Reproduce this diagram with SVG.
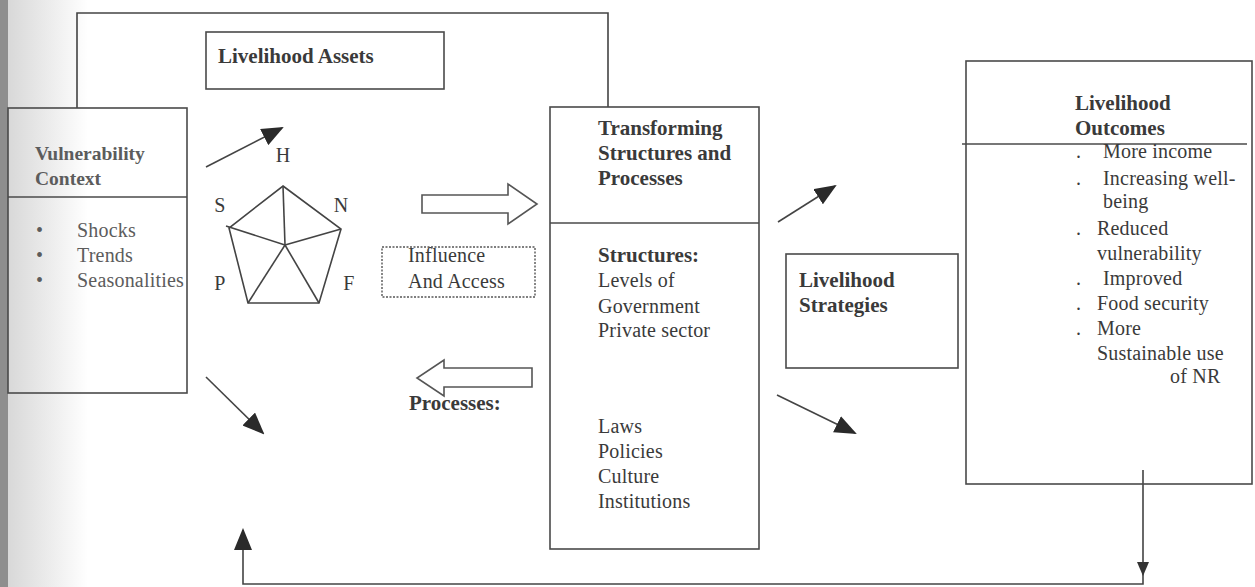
<svg xmlns="http://www.w3.org/2000/svg" width="1255" height="587" viewBox="0 0 1255 587">
<style>
.box{fill:none;stroke:#4a4a4a;stroke-width:1.6}
.ln{fill:none;stroke:#444;stroke-width:1.6}
.t{font-family:"Liberation Serif","Times New Roman",serif;font-size:20px;letter-spacing:0.2px;fill:#3a3a3a}
.b{font-family:"Liberation Serif","Times New Roman",serif;font-size:21px;font-weight:bold;fill:#3a3a3a}
.g{fill:#5c5c5c}
.dbl{fill:#fff;stroke:#555;stroke-width:1.6}
</style>
<defs>
<marker id="ah" markerWidth="22" markerHeight="18" refX="20" refY="9" orient="auto" markerUnits="userSpaceOnUse">
<path d="M0,0 L22,9 L0,18 Z" fill="#2a2a2a"/>
</marker>
<linearGradient id="edge" x1="0" x2="1" y1="0" y2="0">
<stop offset="0" stop-color="#d8d8d8"/>
<stop offset="1" stop-color="#ffffff"/>
</linearGradient>
</defs>
<rect x="0" y="0" width="1255" height="587" fill="#fff"/>
<rect x="8" y="0" width="80" height="587" fill="url(#edge)"/>
<rect x="0" y="0" width="8" height="587" fill="#8e8e8e"/>

<g id="connectors">
<polyline class="ln" points="77,108 77,13 608,13 608,107"/>
<line class="ln" x1="206" y1="167" x2="282" y2="128" marker-end="url(#ah)"/>
<line class="ln" x1="206" y1="377" x2="263" y2="433" marker-end="url(#ah)"/>
<line class="ln" x1="778" y1="222" x2="835" y2="186" marker-end="url(#ah)"/>
<line class="ln" x1="777" y1="395" x2="855" y2="433" marker-end="url(#ah)"/>
<polyline class="ln" points="1143,470 1143,584 243,584 243,530" marker-end="url(#ah)"/>
<path d="M1137,562 L1149,562 L1143,576 Z" fill="#333"/>
<path class="dbl" d="M422,195 L508,195 L508,184 L537,204 L508,224 L508,213 L422,213 Z"/>
<path class="dbl" d="M532,368 L444,368 L444,360 L417,378 L444,396 L444,387 L532,387 Z"/>
</g>

<g id="livelihood-assets">
<rect class="box" x="206" y="32" width="238" height="57"/>
<text class="b" x="218" y="63">Livelihood Assets</text>
</g>

<g id="vulnerability-context">
<rect class="box" x="8" y="108" width="179" height="285"/>
<line class="box" x1="8" y1="197" x2="187" y2="197"/>
<text class="b g" x="35" y="160" style="font-size:19.5px">Vulnerability</text>
<text class="b g" x="35" y="185" style="font-size:19.5px">Context</text>
<text class="t g" x="36" y="237">•</text>
<text class="t g" x="77" y="237">Shocks</text>
<text class="t g" x="36" y="262">•</text>
<text class="t g" x="77" y="262">Trends</text>
<text class="t g" x="36" y="287">•</text>
<text class="t g" x="77" y="287">Seasonalities</text>
</g>

<g id="assets-pentagon">
<polygon class="ln" points="283,186 341,229 319,303 248,303 229,228"/>
<line class="ln" x1="285" y1="245" x2="283" y2="186"/>
<line class="ln" x1="285" y1="245" x2="341" y2="229"/>
<line class="ln" x1="285" y1="245" x2="319" y2="303"/>
<line class="ln" x1="285" y1="245" x2="248" y2="303"/>
<line class="ln" x1="285" y1="245" x2="226" y2="226"/>
<text class="t" x="283" y="162" text-anchor="middle">H</text>
<text class="t" x="220" y="212" text-anchor="middle">S</text>
<text class="t" x="341" y="212" text-anchor="middle">N</text>
<text class="t" x="220" y="290" text-anchor="middle">P</text>
<text class="t" x="349" y="290" text-anchor="middle">F</text>
</g>

<g id="influence-access">
<rect x="382" y="247" width="153" height="50" fill="none" stroke="#555" stroke-width="1.4" stroke-dasharray="2,1.5"/>
<text class="t" x="408" y="262">Influence</text>
<text class="t" x="408" y="288">And Access</text>
<text class="b" x="409" y="410">Processes:</text>
</g>

<g id="transforming-structures">
<rect class="box" x="550" y="107" width="209" height="442"/>
<line class="box" x1="550" y1="223" x2="759" y2="223"/>
<text class="b" x="598" y="135">Transforming</text>
<text class="b" x="598" y="160">Structures and</text>
<text class="b" x="598" y="185">Processes</text>
<text class="b" x="598" y="262">Structures:</text>
<text class="t" x="598" y="287">Levels of</text>
<text class="t" x="598" y="313">Government</text>
<text class="t" x="598" y="337">Private sector</text>
<text class="t" x="598" y="433">Laws</text>
<text class="t" x="598" y="458">Policies</text>
<text class="t" x="598" y="483">Culture</text>
<text class="t" x="598" y="508">Institutions</text>
</g>

<g id="livelihood-strategies">
<rect class="box" x="786" y="254" width="172" height="114"/>
<text class="b" x="799" y="287">Livelihood</text>
<text class="b" x="799" y="312">Strategies</text>
</g>

<g id="livelihood-outcomes">
<rect class="box" x="966" y="61" width="286" height="423"/>
<line class="box" x1="962" y1="144" x2="1247" y2="144"/>
<text class="b" x="1075" y="110">Livelihood</text>
<text class="b" x="1075" y="135">Outcomes</text>
<text class="t" x="1076" y="158">.</text>
<text class="t" x="1103" y="158">More income</text>
<text class="t" x="1076" y="185">.</text>
<text class="t" x="1103" y="185">Increasing well-</text>
<text class="t" x="1103" y="208">being</text>
<text class="t" x="1076" y="235">.</text>
<text class="t" x="1097" y="235">Reduced</text>
<text class="t" x="1097" y="260">vulnerability</text>
<text class="t" x="1076" y="285">.</text>
<text class="t" x="1103" y="285">Improved</text>
<text class="t" x="1076" y="310">.</text>
<text class="t" x="1097" y="310">Food security</text>
<text class="t" x="1076" y="335">.</text>
<text class="t" x="1097" y="335">More</text>
<text class="t" x="1097" y="360">Sustainable use</text>
<text class="t" x="1170" y="383">of NR</text>
</g>
</svg>
